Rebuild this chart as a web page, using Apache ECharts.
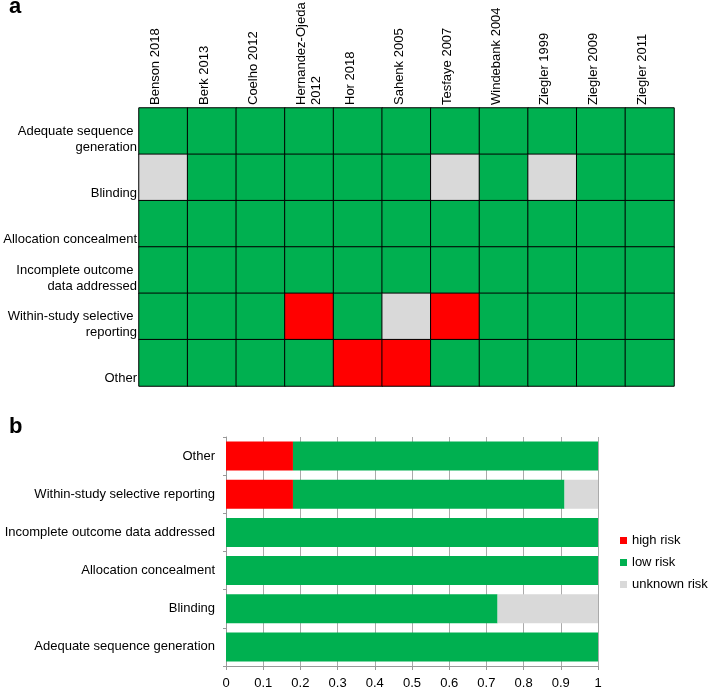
<!DOCTYPE html>
<html>
<head>
<meta charset="utf-8">
<script src="https://cdn.jsdelivr.net/npm/echarts@6/dist/echarts.min.js"></script>
<style>
  html, body { margin: 0; padding: 0; background: #fff; }
  #chart { width: 709px; height: 688px; }
</style>
</head>
<body>
<div id="chart"></div>
<script>
// panel a: one row per domain, one column per study
const studies = ['Benson 2018', 'Berk 2013', 'Coelho 2012', 'Hernandez-Ojeda\n2012', 'Hor 2018', 'Sahenk 2005',
    'Tesfaye 2007', 'Windebank 2004', 'Ziegler 1999', 'Ziegler 2009', 'Ziegler 2011'];
const domains = ['Adequate sequence \ngeneration', 'Blinding', 'Allocation concealment',
    'Incomplete outcome \ndata addressed', 'Within-study selective \nreporting', 'Other'];
// 0 = high risk, 1 = low risk, 2 = unknown risk
const judgements = [
    [1, 1, 1, 1, 1, 1, 1, 1, 1, 1, 1],
    [2, 1, 1, 1, 1, 1, 2, 1, 2, 1, 1],
    [1, 1, 1, 1, 1, 1, 1, 1, 1, 1, 1],
    [1, 1, 1, 1, 1, 1, 1, 1, 1, 1, 1],
    [1, 1, 1, 0, 1, 2, 0, 1, 1, 1, 1],
    [1, 1, 1, 1, 0, 0, 1, 1, 1, 1, 1]
];

// panel b: proportions, bottom to top
const summaryDomains = ['Adequate sequence generation', 'Blinding', 'Allocation concealment',
    'Incomplete outcome data addressed', 'Within-study selective reporting', 'Other'];
const highRisk = [0, 0, 0, 0, 0.18, 0.18];
const lowRisk = [1, 0.73, 1, 1, 0.73, 0.82];
const unknownRisk = [0, 0.27, 0, 0, 0.09, 0];

const FONT = '"Liberation Sans", Arial, Helvetica, sans-serif';
const RED = '#ff0000', GREEN = '#00b050', GREY = '#d9d9d9';

const cells = [];
judgements.forEach((row, r) => {
    row.forEach((v, c) => cells.push([c, r, v]));
});

const chart = echarts.init(document.getElementById('chart'));

chart.setOption({
    animation: false,
    textStyle: {fontFamily: FONT},
    title: [
        {text: 'a', left: 9, top: -4, padding: 0, textStyle: {fontSize: 22, fontWeight: 'bold', color: '#000', fontFamily: FONT}},
        {text: 'b', left: 9, top: 416, padding: 0, textStyle: {fontSize: 22, fontWeight: 'bold', color: '#000', fontFamily: FONT}}
    ],
    visualMap: {
        type: 'piecewise',
        show: false,
        seriesIndex: 0,
        dimension: 2,
        pieces: [
            {value: 0, color: RED},
            {value: 1, color: GREEN},
            {value: 2, color: GREY}
        ]
    },
    legend: {
        orient: 'vertical',
        left: 620,
        top: 534,
        padding: 0,
        itemWidth: 7,
        itemHeight: 7,
        itemGap: 9,
        icon: 'rect',
        textStyle: {fontSize: 13, color: '#000', fontFamily: FONT},
        data: ['high risk', 'low risk', 'unknown risk']
    },
    grid: [
        {left: 139, right: 35, top: 108, bottom: 302, outerBoundsMode: 'none'},
        {left: 226, right: 111, top: 437, bottom: 22, outerBoundsMode: 'none'}
    ],
    xAxis: [
        {
            type: 'category',
            gridIndex: 0,
            position: 'top',
            data: studies,
            axisLine: {show: false},
            axisTick: {show: false},
            splitLine: {show: false},
            axisLabel: {
                rotate: -90,
                margin: 3,
                fontSize: 13,
                lineHeight: 15,
                color: '#000',
                interval: 0,
                formatter: v => v.indexOf('\n') < 0 ? v + '\n\u00a0' : v
            }
        },
        {
            type: 'value',
            gridIndex: 1,
            min: 0,
            max: 1,
            interval: 0.1,
            axisLine: {show: true, lineStyle: {color: '#999'}},
            axisTick: {show: true, length: 4, lineStyle: {color: '#999'}},
            splitLine: {show: true, lineStyle: {color: '#aaa'}},
            axisLabel: {fontSize: 13, color: '#000', margin: 11}
        }
    ],
    yAxis: [
        {
            type: 'category',
            gridIndex: 0,
            inverse: true,
            data: domains,
            axisLine: {show: false},
            axisTick: {show: false},
            splitLine: {show: false},
            axisLabel: {
                margin: 2,
                fontSize: 13,
                lineHeight: 16,
                color: '#000',
                interval: 0,
                // bottom-align the text inside its row
                formatter: v => {
                    let lines = v.split('\n');
                    while (lines.length < 3) lines.unshift('\u00a0');
                    return lines.join('\n');
                }
            }
        },
        {
            type: 'category',
            gridIndex: 1,
            data: summaryDomains,
            axisLine: {show: true, lineStyle: {color: '#999'}},
            axisTick: {show: true, length: 3, lineStyle: {color: '#999'}},
            axisLabel: {margin: 11, fontSize: 13, color: '#000', interval: 0}
        }
    ],
    series: [
        {
            type: 'heatmap',
            xAxisIndex: 0,
            yAxisIndex: 0,
            data: cells,
            itemStyle: {borderColor: '#000', borderWidth: 1},
            emphasis: {disabled: true}
        },
        {
            name: 'high risk', type: 'bar', stack: 'risk', xAxisIndex: 1, yAxisIndex: 1,
            barCategoryGap: '24%', itemStyle: {color: RED}, data: highRisk
        },
        {
            name: 'low risk', type: 'bar', stack: 'risk', xAxisIndex: 1, yAxisIndex: 1,
            barCategoryGap: '24%', itemStyle: {color: GREEN}, data: lowRisk
        },
        {
            name: 'unknown risk', type: 'bar', stack: 'risk', xAxisIndex: 1, yAxisIndex: 1,
            barCategoryGap: '24%', itemStyle: {color: GREY}, data: unknownRisk
        }
    ]
});
</script>
</body>
</html>
